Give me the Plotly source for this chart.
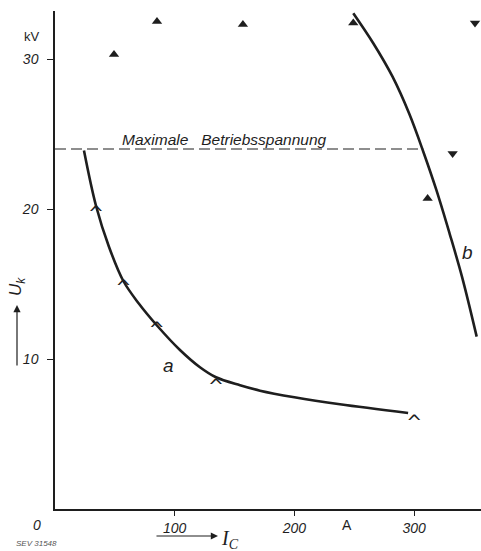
import plotly.graph_objects as go

# ---- data ----
curve_a_x = [24.2, 34.3, 45.0, 57.1, 70.0, 85.0, 104.4, 121.1, 134.5, 154.6, 171.3, 200.0, 238.0, 295.0]
curve_a_y = [23.9, 20.2, 17.5, 15.2, 13.7, 12.25, 10.6, 9.45, 8.78, 8.25, 7.89, 7.45, 6.98, 6.4]

meas_a_x = [34.3, 57.1, 85.0, 134.5, 300.0]
meas_a_y = [20.2, 15.3, 12.5, 8.7, 6.3]

curve_b_x = [249.2, 265.9, 282.0, 295.8, 307.7, 318.6, 329.6, 340.0, 352.3]
curve_b_y = [33.05, 31.05, 28.82, 26.38, 23.82, 21.27, 18.38, 15.49, 11.49]

up_x = [49.3, 85.2, 157.0, 249.2, 311.3]
up_y = [30.3, 32.5, 32.3, 32.4, 20.7]

down_x = [332.2, 350.9]
down_y = [23.7, 32.4]

max_voltage = 24.0
max_line_x = [0, 307.7]

x_ticks = [100, 200, 300]
x_ticktext = ["100", "200", "300"]
y_ticks = [10, 20, 30]
y_ticktext = ["10", "20", "30"]

INK = "#1e1e1e"
SANS = "Liberation Sans"

fig = go.Figure()

fig.add_trace(go.Scatter(
    x=max_line_x, y=[max_voltage] * len(max_line_x), mode="lines",
    line=dict(color=INK, width=1.1, dash="11px,5px"), hoverinfo="skip"))

fig.add_trace(go.Scatter(
    x=curve_a_x, y=curve_a_y, mode="lines",
    line=dict(color=INK, width=2.6, shape="spline", smoothing=1)))

fig.add_trace(go.Scatter(
    x=curve_b_x, y=curve_b_y, mode="lines",
    line=dict(color=INK, width=2.6, shape="spline", smoothing=1)))

fig.add_trace(go.Scatter(
    x=meas_a_x, y=meas_a_y, mode="text", text=["^"] * len(meas_a_x),
    textposition="bottom center",
    textfont=dict(family="DejaVu Sans", size=19, color=INK)))

fig.add_trace(go.Scatter(
    x=up_x, y=up_y, mode="markers",
    marker=dict(symbol="triangle-up", size=9, color=INK)))

fig.add_trace(go.Scatter(
    x=down_x, y=down_y, mode="markers",
    marker=dict(symbol="triangle-down", size=9, color=INK)))

fig.update_layout(
    width=481, height=551,
    margin=dict(l=55, r=0, t=11, b=42),
    paper_bgcolor="white", plot_bgcolor="white",
    showlegend=False,
    font=dict(family=SANS, color=INK),
    xaxis=dict(
        range=[0, 355.9], showgrid=False, zeroline=False,
        showline=True, linecolor=INK, linewidth=1.5,
        tickvals=x_ticks, ticktext=x_ticktext,
        ticks="outside", ticklen=5, tickcolor=INK, tickwidth=1,
        tickfont=dict(family=SANS, size=14, style="italic", color=INK),
    ),
    yaxis=dict(
        range=[0, 33.2], showgrid=False, zeroline=False,
        showline=True, linecolor=INK, linewidth=1.5,
        tickvals=y_ticks, ticktext=y_ticktext,
        ticks="outside", ticklen=6, tickcolor=INK, tickwidth=1,
        ticklabelstandoff=6,
        tickfont=dict(family=SANS, size=14, style="italic", color=INK),
    ),
)

C = dict(xanchor="center", yanchor="middle", showarrow=False)
ann = []
# paper-referenced labels outside the plotting area
ann.append(dict(x=-0.0423, y=-0.0321, xref="paper", yref="paper", text="<i>0</i>",
                font=dict(size=14, family=SANS, color=INK), **C))
ann.append(dict(x=244, y=0, xref="x", yref="y", text="A",
                yshift=-16, font=dict(size=14, family=SANS, color=INK), **C))
ann.append(dict(x=-0.054, y=0.948, xref="paper", yref="paper", text="kV",
                font=dict(size=13, family=SANS, color=INK), **C))
ann.append(dict(x=54.3, y=max_voltage, xref="x", yref="y", xanchor="left", yanchor="middle",
                text="<i>Maximale   Betriebsspannung</i>", showarrow=False, yshift=10,
                font=dict(size=15.5, family=SANS, color=INK)))
ann.append(dict(x=95.2, y=9.6, xref="x", yref="y", text="<i>a</i>",
                font=dict(size=19, family=SANS, color=INK), **C))
ann.append(dict(x=345, y=17.07, xref="x", yref="y", text="<i>b</i>",
                font=dict(size=19, family=SANS, color=INK), **C))
# y axis title with arrow
ann.append(dict(x=-0.0892, y=0.4458, xref="paper", yref="paper", text="<i>U<sub>k</sub></i>",
                textangle=-90, font=dict(size=17, family=SANS, color=INK), **C))
ann.append(dict(x=-0.0892, y=0.4096, xref="paper", yref="paper", text="", showarrow=True,
                ax=0, ay=62, arrowhead=2, arrowsize=1.2, arrowwidth=1.2, arrowcolor=INK))
# x axis title with arrow
ann.append(dict(x=0.3826, y=-0.0542, xref="paper", yref="paper", text="", showarrow=True,
                ax=-63, ay=0, arrowhead=2, arrowsize=1.2, arrowwidth=1.2, arrowcolor=INK))
ann.append(dict(x=0.4108, y=-0.0622, xref="paper", yref="paper", text="<i>I<sub>C</sub></i>",
                font=dict(size=20, family="Liberation Serif", color=INK), **C))
ann.append(dict(x=-0.0446, y=-0.0683, xref="paper", yref="paper", text="<i>SEV 31548</i>",
                font=dict(size=8, family=SANS, color="#555"), **C))
fig.update_layout(annotations=ann)

fig.write_html("out.html", config={"displayModeBar": False})

# remove the browser's default body margin so the figure sits at the page origin
with open("out.html", "r", encoding="utf-8") as f:
    html = f.read()
html = html.replace("<head>", "<head><style>html,body{margin:0;padding:0;overflow:hidden;}</style>", 1)
with open("out.html", "w", encoding="utf-8") as f:
    f.write(html)
